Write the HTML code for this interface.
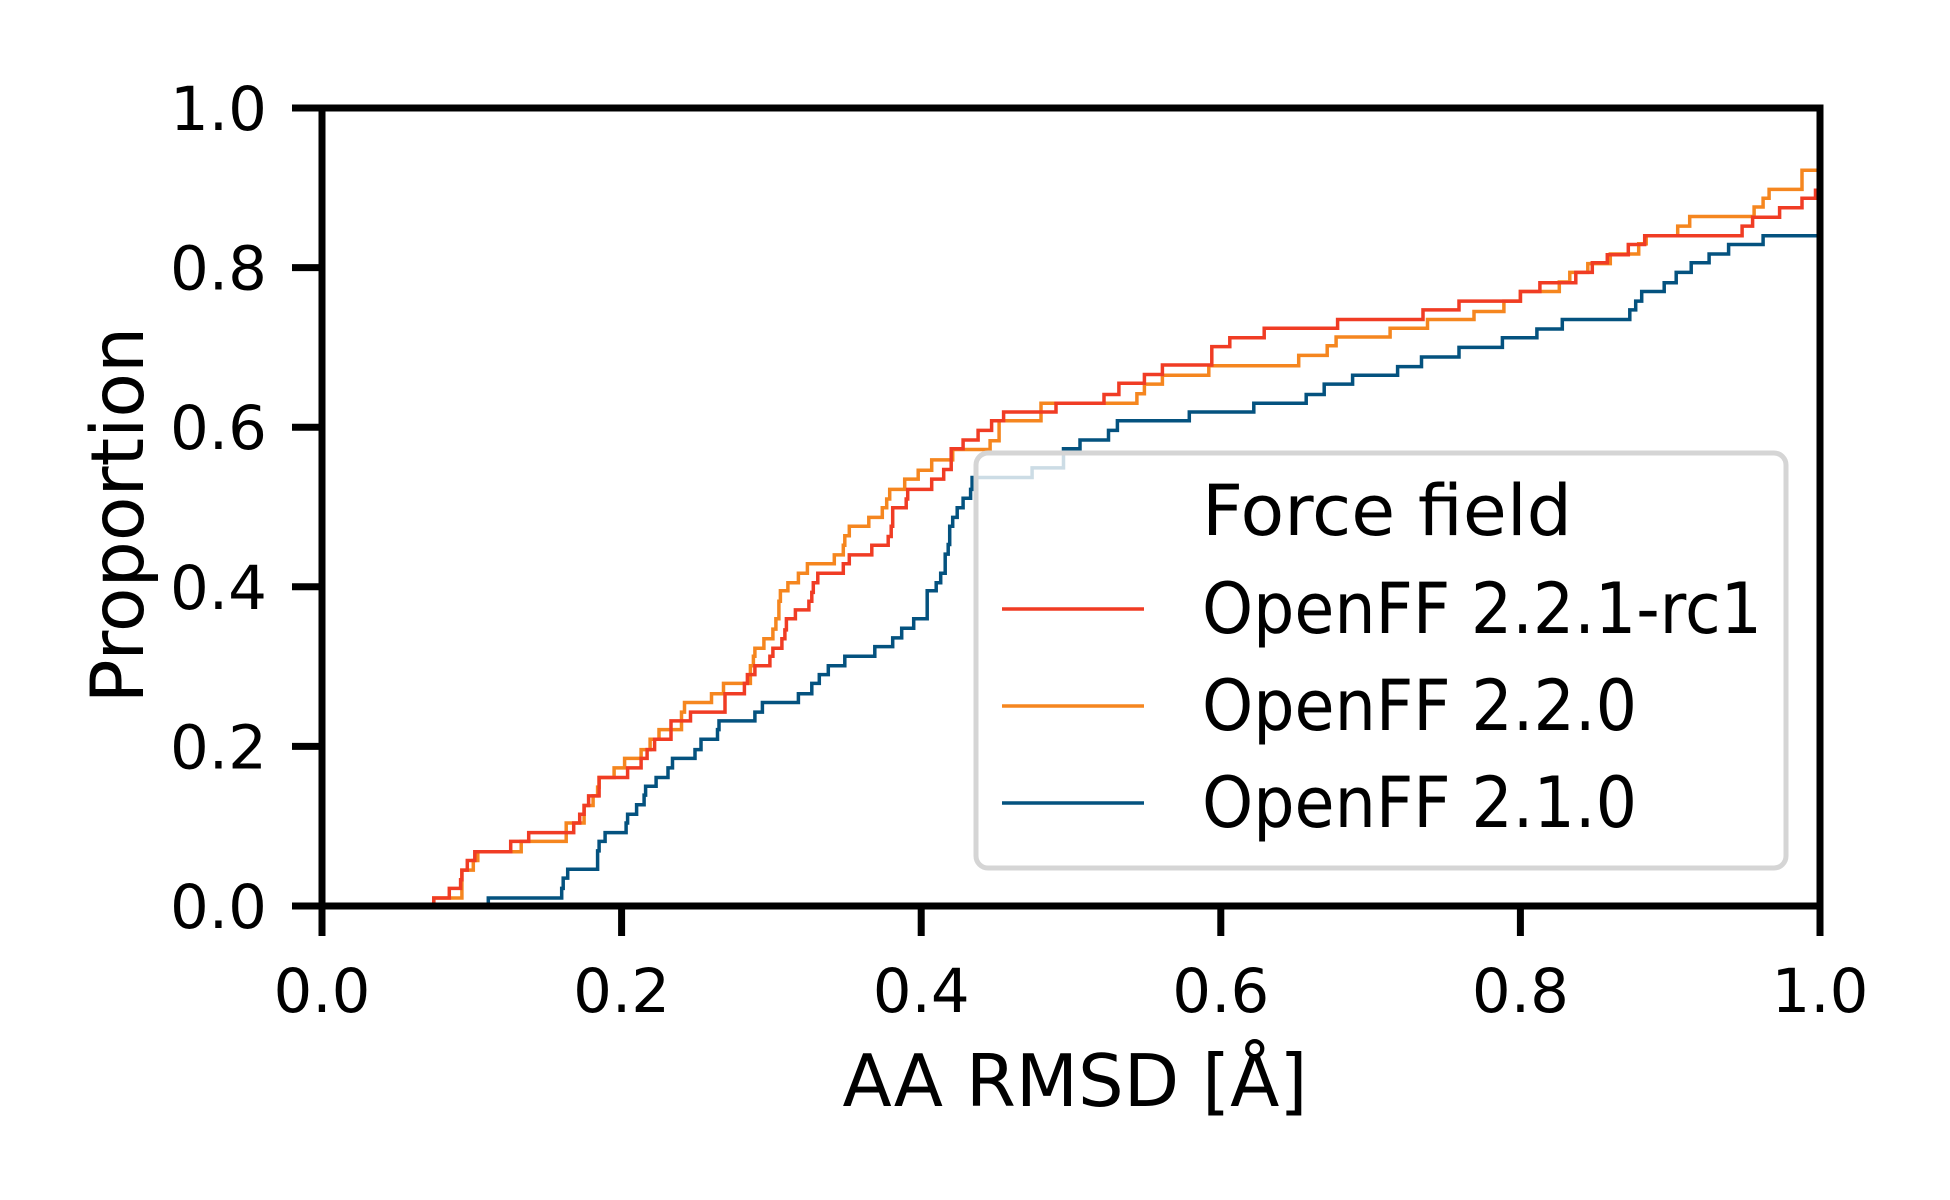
<!DOCTYPE html>
<html><head><meta charset="utf-8"><style>
html,body{margin:0;padding:0;background:#fff;}
svg{display:block;font-family:"DejaVu Sans","Liberation Sans",sans-serif;}
</style></head><body>
<svg id="chart" width="1950" height="1200" viewBox="0 0 1950 1200" xmlns="http://www.w3.org/2000/svg">
<rect x="0" y="0" width="1950" height="1200" fill="#fff"/>
<g id="series"></g>
<g id="axes"></g>
<g>
  <rect x="976" y="453" width="810" height="415" rx="12" fill="#fff" fill-opacity="0.8" stroke="#d5d5d5" stroke-width="5"/>
  <text x="1202" y="535" font-size="70" textLength="370" lengthAdjust="spacingAndGlyphs">Force field</text>
  <line x1="1002" y1="609" x2="1144" y2="609" stroke="#f03c24" stroke-width="3.5"/>
  <text x="1202" y="633" font-size="70" textLength="560" lengthAdjust="spacingAndGlyphs">OpenFF 2.2.1-rc1</text>
  <line x1="1002" y1="706" x2="1144" y2="706" stroke="#f5861f" stroke-width="3.5"/>
  <text x="1202" y="730" font-size="70" textLength="435" lengthAdjust="spacingAndGlyphs">OpenFF 2.2.0</text>
  <line x1="1002" y1="803" x2="1144" y2="803" stroke="#04527f" stroke-width="3.5"/>
  <text x="1202" y="827" font-size="70" textLength="435" lengthAdjust="spacingAndGlyphs">OpenFF 2.1.0</text>
</g>
</svg>
<script>
const xTicks = [0, 0.2, 0.4, 0.6, 0.8, 1.0];
const yTicks = [0, 0.2, 0.4, 0.6, 0.8, 1.0];
const tickLabels = ["0.0", "0.2", "0.4", "0.6", "0.8", "1.0"];
const redX = [0.0746,0.085,0.0925,0.0934,0.097,0.102,0.126,0.138,0.168,0.172,0.175,0.178,0.185,0.204,0.213,0.217,0.222,0.233,0.246,0.269,0.282,0.284,0.289,0.299,0.301,0.307,0.309,0.310,0.316,0.325,0.327,0.328,0.331,0.348,0.352,0.367,0.378,0.380,0.381,0.390,0.391,0.407,0.415,0.420,0.428,0.438,0.447,0.455,0.490,0.522,0.532,0.549,0.561,0.594,0.606,0.629,0.678,0.735,0.759,0.800,0.813,0.837,0.848,0.858,0.872,0.883,0.948,0.955,0.973,0.988,0.997];
const redY = [0.010,0.022,0.033,0.045,0.057,0.068,0.081,0.092,0.104,0.115,0.126,0.138,0.161,0.173,0.185,0.196,0.209,0.232,0.243,0.266,0.279,0.290,0.301,0.313,0.323,0.335,0.346,0.360,0.371,0.382,0.393,0.405,0.417,0.429,0.440,0.452,0.463,0.476,0.499,0.510,0.522,0.535,0.547,0.573,0.584,0.596,0.608,0.619,0.630,0.641,0.655,0.666,0.678,0.701,0.712,0.724,0.735,0.747,0.758,0.770,0.781,0.794,0.806,0.816,0.829,0.840,0.852,0.863,0.875,0.887,0.897];
const orangeX = [0.0746,0.0934,0.101,0.104,0.133,0.163,0.175,0.181,0.184,0.185,0.195,0.202,0.213,0.219,0.225,0.240,0.242,0.260,0.268,0.286,0.288,0.289,0.295,0.301,0.303,0.305,0.306,0.311,0.318,0.324,0.342,0.348,0.349,0.352,0.365,0.374,0.377,0.379,0.389,0.398,0.407,0.421,0.446,0.452,0.480,0.544,0.549,0.561,0.592,0.652,0.671,0.677,0.713,0.738,0.769,0.789,0.800,0.826,0.833,0.845,0.860,0.879,0.884,0.905,0.913,0.956,0.962,0.966,0.988];
const orangeY = [0.010,0.045,0.057,0.068,0.081,0.104,0.126,0.138,0.149,0.161,0.173,0.185,0.196,0.209,0.221,0.243,0.255,0.266,0.279,0.301,0.313,0.323,0.335,0.347,0.360,0.382,0.395,0.405,0.417,0.429,0.440,0.452,0.464,0.476,0.487,0.499,0.510,0.522,0.535,0.546,0.559,0.572,0.583,0.608,0.630,0.642,0.654,0.665,0.677,0.690,0.702,0.713,0.724,0.735,0.745,0.758,0.770,0.782,0.794,0.805,0.817,0.830,0.840,0.852,0.864,0.876,0.887,0.898,0.922];
const blueX = [0.111,0.160,0.161,0.164,0.184,0.185,0.189,0.203,0.204,0.210,0.215,0.216,0.223,0.231,0.234,0.249,0.253,0.264,0.265,0.289,0.294,0.318,0.327,0.332,0.338,0.349,0.369,0.381,0.387,0.395,0.404,0.410,0.413,0.416,0.418,0.419,0.421,0.424,0.428,0.433,0.434,0.474,0.495,0.506,0.525,0.531,0.579,0.622,0.657,0.669,0.688,0.718,0.734,0.759,0.788,0.811,0.828,0.873,0.877,0.881,0.896,0.904,0.914,0.926,0.939,0.962];
const blueY = [0.010,0.022,0.035,0.046,0.069,0.081,0.092,0.104,0.115,0.127,0.139,0.150,0.161,0.173,0.185,0.196,0.209,0.221,0.232,0.243,0.255,0.266,0.279,0.290,0.301,0.313,0.325,0.336,0.348,0.360,0.395,0.405,0.417,0.441,0.453,0.476,0.487,0.499,0.511,0.522,0.537,0.549,0.573,0.584,0.596,0.608,0.619,0.630,0.641,0.654,0.665,0.676,0.688,0.700,0.712,0.723,0.735,0.747,0.758,0.770,0.781,0.794,0.806,0.817,0.829,0.840];

const NS = "http://www.w3.org/2000/svg";
const X0 = 322, X1 = 1820, Y0 = 906, Y1 = 108;
function sx(v){ return X0 + v * (X1 - X0); }
function sy(v){ return Y0 - v * (Y0 - Y1); }

const seriesG = document.getElementById('series');
function drawSeries(xs, ys, color, name){
  let d = "M" + sx(xs[0]).toFixed(1) + "," + sy(0).toFixed(1) + " V" + sy(ys[0]).toFixed(1);
  for (let i = 1; i < xs.length; i++){
    d += " H" + sx(xs[i]).toFixed(1) + " V" + sy(ys[i]).toFixed(1);
  }
  d += " H" + sx(1).toFixed(1);
  const p = document.createElementNS(NS, 'path');
  p.setAttribute('d', d);
  p.setAttribute('fill', 'none');
  p.setAttribute('stroke', color);
  p.setAttribute('stroke-width', '3.5');
  
  
  seriesG.appendChild(p);
}
drawSeries(blueX, blueY, '#04527f', 'line-openff-2-1-0');
drawSeries(orangeX, orangeY, '#f5861f', 'line-openff-2-2-0');
drawSeries(redX, redY, '#f03c24', 'line-openff-2-2-1-rc1');

const axesG = document.getElementById('axes');
const frame = document.createElementNS(NS, 'rect');
frame.setAttribute('x', X0); frame.setAttribute('y', Y1);
frame.setAttribute('width', X1 - X0); frame.setAttribute('height', Y0 - Y1);
frame.setAttribute('fill', 'none'); frame.setAttribute('stroke', '#000'); frame.setAttribute('stroke-width', '7');


axesG.appendChild(frame);

xTicks.forEach((v, i) => {
  const t = document.createElementNS(NS, 'line');
  t.setAttribute('x1', sx(v)); t.setAttribute('x2', sx(v));
  t.setAttribute('y1', Y0); t.setAttribute('y2', Y0 + 30);
  t.setAttribute('stroke', '#000'); t.setAttribute('stroke-width', '7');
  
  
  axesG.appendChild(t);
  const l = document.createElementNS(NS, 'text');
  l.setAttribute('x', sx(v)); l.setAttribute('y', 1012);
  l.setAttribute('text-anchor', 'middle'); l.setAttribute('font-size', '61');
  l.textContent = tickLabels[i];
  
  
  axesG.appendChild(l);
});
yTicks.forEach((v, i) => {
  const t = document.createElementNS(NS, 'line');
  t.setAttribute('x1', X0 - 30); t.setAttribute('x2', X0);
  t.setAttribute('y1', sy(v)); t.setAttribute('y2', sy(v));
  t.setAttribute('stroke', '#000'); t.setAttribute('stroke-width', '7');
  
  
  axesG.appendChild(t);
  const l = document.createElementNS(NS, 'text');
  l.setAttribute('x', 267); l.setAttribute('y', sy(v) + 22);
  l.setAttribute('text-anchor', 'end'); l.setAttribute('font-size', '61');
  l.textContent = tickLabels[i];
  
  
  axesG.appendChild(l);
});
const xl = document.createElementNS(NS, 'text');
xl.setAttribute('x', 1075); xl.setAttribute('y', 1106);
xl.setAttribute('text-anchor', 'middle'); xl.setAttribute('font-size', '72');
xl.textContent = 'AA RMSD [Å]';


axesG.appendChild(xl);
const yl = document.createElementNS(NS, 'text');
yl.setAttribute('x', 0); yl.setAttribute('y', 0);
yl.setAttribute('transform', 'translate(143,515) rotate(-90)');
yl.setAttribute('text-anchor', 'middle'); yl.setAttribute('font-size', '73');
yl.textContent = 'Proportion';


axesG.appendChild(yl);
</script>
</body></html>
